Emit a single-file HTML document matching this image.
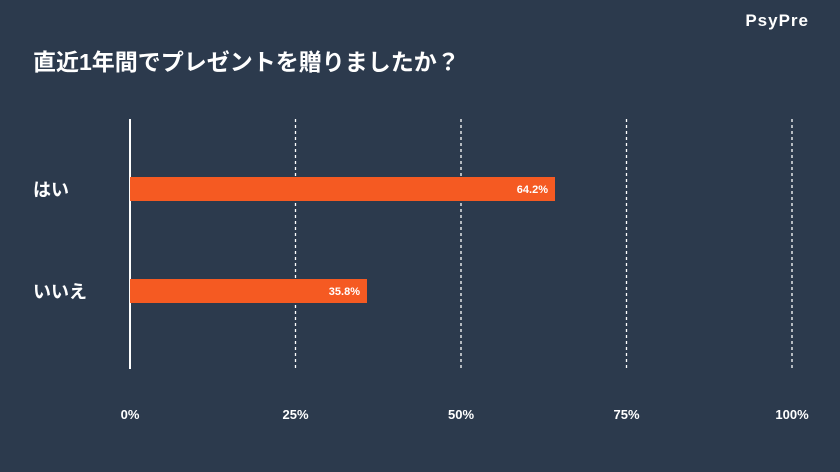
<!DOCTYPE html>
<html><head><meta charset="utf-8"><style>
body{margin:0;width:840px;height:467px;background:#2c3a4d;overflow:hidden;font-family:"Liberation Sans","Noto Sans CJK JP",sans-serif;color:#fff}
</style></head><body>
<svg width="840" height="467">
<text x="809" y="26" text-anchor="end" font-size="17" font-weight="bold" fill="#fff" style="letter-spacing:1px">PsyPre</text>
<text x="33" y="70" font-size="23" font-weight="bold" fill="#fff" font-family="Liberation Sans,Noto Sans CJK JP,sans-serif">直近1年間でプレゼントを贈りましたか？</text>
<g id="plot"></g>
</svg>
<script>
const categories=["はい","いいえ"];
const values=[64.2,35.8];
const ticks=[0,25,50,75,100];
const ns="http://www.w3.org/2000/svg";
const g=document.getElementById('plot');
const x=v=>130+v*6.62;
const y=i=>177+i*102;
function el(t,a){const e=document.createElementNS(ns,t);for(const k in a)e.setAttribute(k,a[k]);g.appendChild(e);return e;}
ticks.forEach(t=>{
  const l=el('line',{x1:x(t),x2:x(t),y1:119,y2:369,stroke:'#fff','stroke-width':t===0?2:1.3,'stroke-dasharray':t===0?'none':'3,3'});
  
  
  const tx=el('text',{x:x(t),y:419,'text-anchor':'middle','font-size':13,'font-weight':'bold',fill:'#fff'});
  tx.textContent=t+'%';
  
  
});
categories.forEach((c,i)=>{
  const r=el('rect',{x:x(0),y:y(i),width:x(values[i])-x(0),height:24,fill:'#f55a22'});
  
  
  const v=el('text',{x:x(values[i])-7,y:y(i)+16,'text-anchor':'end','font-size':11,'font-weight':'bold',fill:'#fff'});
  v.textContent=values[i].toFixed(1)+'%';
  
  
  const lb=el('text',{x:33,y:y(i)+19,'font-size':18,'font-weight':'bold',fill:'#fff'});
  lb.textContent=c;
  
  
});
</script>
</body></html>
